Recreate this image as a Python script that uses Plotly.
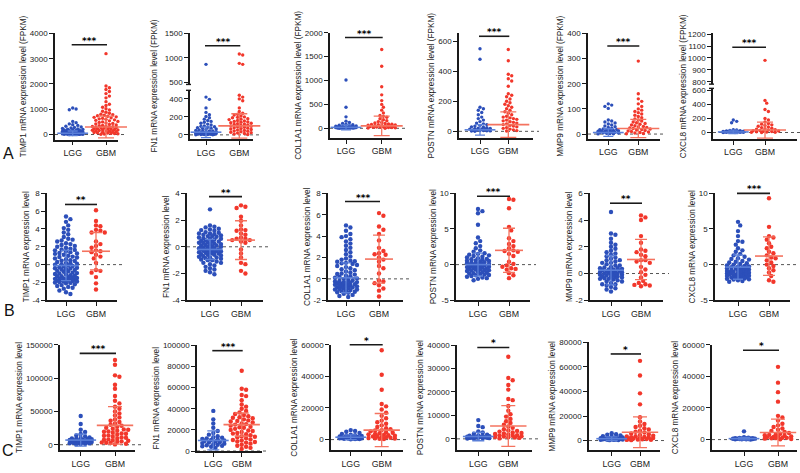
import plotly.graph_objects as go

W, H = 800, 473
groups = ["LGG", "GBM"]
genes = ["TIMP1", "FN1", "COL1A1", "POSTN", "MMP9", "CXCL8"]

# ---------------- Row A (FPKM) ----------------
a_timp1_lgg = [1050, 1010, 980, 520, 470, 420, 390, 360, 330, 300, 280, 260, 240, 225, 210, 200, 190, 180, 170, 160,
               150, 140, 130, 125, 120, 115, 110, 105, 100, 95, 90, 85, 80, 76, 72, 68, 64, 60, 56, 52, 48, 45, 42, 39,
               36, 33, 30, 27, 24, 21, 18, 15, 12, 10, 8, 6, 5, 4, 3, 2]
a_timp1_gbm = [3200, 1920, 1850, 1780, 1700, 1620, 1520, 1450, 1300, 1200, 1150, 1080, 1020, 970, 920, 880, 840, 800,
               780, 760, 740, 720, 700, 680, 660, 640, 620, 600, 580, 560, 540, 520, 500, 480, 460, 440, 420, 400, 380,
               360, 350, 340, 330, 320, 310, 300, 290, 280, 270, 260, 250, 240, 230, 220, 210, 200, 190, 180, 170, 160,
               150, 140, 130, 120, 110, 100, 90, 80, 70, 60, 50, 40, 30, 20, 10]
a_fn1_lgg = [870, 420, 395, 300, 250, 225, 205, 190, 175, 160, 150, 140, 130, 120, 110, 100, 95, 90, 85, 80, 75, 70, 65,
             60, 55, 50, 45, 40, 36, 32, 28, 25, 22, 20, 18, 16, 14, 12, 10, 9, 8, 7, 6, 5, 4, 3, 2, 1, 15, 25, 35, 45]
a_fn1_gbm = [1080, 1060, 890, 870, 440, 420, 400, 380, 300, 260, 240, 230, 220, 210, 200, 195, 190, 180, 175, 170, 160,
             155, 150, 145, 140, 135, 130, 125, 120, 115, 110, 105, 100, 95, 90, 85, 80, 75, 70, 65, 60, 55, 50, 45, 40,
             35, 30, 25, 20, 15, 10, 5]
a_col1a1_lgg = [1010, 440, 240, 150, 120, 100, 85, 75, 65, 55, 50, 45, 40, 35, 30, 28, 25, 22, 20, 18, 16, 14, 12, 10, 9,
                8, 7, 6, 5, 4, 3, 2, 1, 15, 25, 35]
a_col1a1_gbm = [1650, 1300, 870, 700, 580, 500, 440, 380, 320, 270, 250, 230, 200, 180, 160, 140, 120, 110, 100, 90, 80,
                70, 60, 55, 50, 45, 40, 35, 30, 25, 20, 15, 10, 5, 2, 65, 75, 85, 28, 18]
a_postn_lgg = [550, 480, 160, 150, 140, 125, 110, 95, 85, 75, 65, 55, 50, 45, 40, 35, 30, 27, 24, 21, 18, 15, 12, 10, 8,
               6, 5, 4, 3, 2, 1, 20, 14, 9]
a_postn_gbm = [545, 470, 380, 370, 350, 335, 300, 250, 240, 230, 215, 200, 190, 180, 170, 160, 150, 140, 130, 120, 110,
               100, 95, 90, 85, 80, 75, 70, 65, 60, 55, 50, 45, 40, 35, 30, 25, 20, 15, 10, 5, 2]
a_mmp9_lgg = [120, 115, 110, 102, 56, 52, 48, 44, 40, 36, 32, 29, 26, 23, 20, 18, 16, 14, 12, 10, 9, 8, 7, 6, 5, 4, 3, 2,
              1, 0.5, 11, 13, 15, 17]
a_mmp9_gbm = [290, 160, 140, 130, 120, 110, 100, 95, 90, 85, 80, 75, 70, 65, 60, 56, 52, 48, 45, 42, 39, 36, 33, 30, 28,
              26, 24, 22, 20, 18, 16, 14, 12, 10, 8, 6, 4, 2, 1]
a_cxcl8_lgg = [180, 160, 140, 40, 35, 30, 26, 22, 19, 16, 14, 12, 10, 8, 7, 6, 5, 4, 3, 2, 1, 0.5, 9, 11]
a_cxcl8_gbm = [980, 460, 420, 330, 300, 200, 180, 150, 130, 120, 110, 100, 90, 80, 70, 62, 55, 48, 42, 36, 30, 26, 22,
               18, 14, 10, 7, 4, 2, 1]
a_mean_lgg = [50, 30, 20, 10, 6, 8]
a_sd_lgg = [90, 60, 50, 35, 15, 25]
a_mean_gbm = [300, 100, 50, 45, 22, 35]
a_sd_gbm = [430, 135, 205, 85, 36, 115]
a_sig = ["***", "***", "***", "***", "***", "***"]

# ---------------- Row B (normalised) ----------------
b_timp1_lgg = [5.4, 5.1, 4.8, 4.4, 4.1, 3.9, 3.6, 3.4, 3.1, 2.9, 2.7, 2.6, 2.4, 2.3, 2.1, 2.0, 1.9, 1.8, 1.7, 1.6, 1.5,
               1.4, 1.3, 1.2, 1.1, 1.0, 0.9, 0.8, 0.7, 0.6, 0.5, 0.4, 0.3, 0.2, 0.1, 0.0, -0.1, -0.2, -0.3, -0.4, -0.5,
               -0.6, -0.7, -0.8, -0.9, -1.0, -1.1, -1.2, -1.3, -1.4, -1.5, -1.6, -1.7, -1.8, -1.9, -2.0, -2.1, -2.2,
               -2.3, -2.5, -2.7, -2.9, -3.1, -3.3, 0.45, 0.15, -0.15, -0.45, -0.75, -1.05, -1.25, -1.45, -1.55, -1.65,
               -1.75, -1.85, -1.95, -2.05, -1.7, -1.8, -1.6, -1.9, -1.3, -0.95, -0.55, -0.35, 0.05, -2.4, -2.6, 2.8,
               2.2, 1.65, 1.25, 0.85]
b_timp1_gbm = [6.1, 4.9, 4.4, 4.3, 3.9, 3.8, 3.6, 3.6, 2.6, 2.3, 2.1, 1.9, 1.6, 1.5, 1.4, 1.1, 0.9, 0.7, 0.2, -0.6,
               -0.7, -0.9, -1.4, -2.1, -2.8]
b_fn1_lgg = [2.8, 1.6, 1.5, 1.45, 1.35, 1.3, 1.25, 1.2, 1.1, 1.05, 1.0, 0.95, 0.9, 0.85, 0.8, 0.75, 0.7, 0.65, 0.6, 0.55,
             0.5, 0.45, 0.4, 0.35, 0.3, 0.25, 0.2, 0.15, 0.1, 0.05, 0.0, -0.05, -0.1, -0.15, -0.2, -0.25, -0.3, -0.35,
             -0.4, -0.45, -0.5, -0.55, -0.6, -0.65, -0.7, -0.75, -0.8, -0.85, -0.9, -0.95, -1.0, -1.1, -1.2, -1.3, -1.4,
             -1.5, -1.6, -1.7, -1.8, -1.9, -2.05, 0.3, 0.2, 0.1, 0.0, -0.1, -0.2, -0.3, -0.4, -0.5, -0.6, -0.2, -0.3,
             -0.4, 0.4, 0.6, -0.8, -1.0, -1.2, 0.8, 1.0]
b_fn1_gbm = [3.1, 3.0, 2.9, 2.25, 1.95, 1.6, 1.3, 1.25, 1.2, 1.0, 0.9, 0.7, 0.6, 0.6, 0.5, 0.5, 0.4, 0.3, -0.2, -0.5,
             -0.8, -1.2, -1.3, -1.8, -2.0]
b_col1a1_lgg = [5.0, 4.8, 4.5, 4.2, 4.0, 3.9, 3.7, 3.5, 3.3, 3.1, 2.9, 2.7, 2.5, 2.3, 2.1, 1.9, 1.8, 1.7, 1.6, 1.5, 1.4,
                1.3, 1.2, 1.1, 1.0, 0.9, 0.8, 0.7, 0.6, 0.5, 0.4, 0.3, 0.2, 0.1, 0.0, -0.1, -0.2, -0.3, -0.4, -0.5,
                -0.6, -0.7, -0.8, -0.9, -1.0, -1.1, -1.2, -1.3, -1.4, -1.5, -1.6, -1.7, -0.15, -0.25, -0.35, -0.45,
                -0.55, -0.65, -0.75, -0.85, -0.95, -1.05, -1.15, -1.25, -0.4, -0.5, -0.6, -0.7, -0.8, -0.3, -1.0, 0.05,
                0.25, 0.45, 1.65, 1.45]
b_col1a1_gbm = [6.15, 5.9, 4.9, 4.6, 4.2, 3.6, 2.9, 2.6, 2.4, 2.3, 2.25, 2.0, 1.8, 1.6, 1.2, 1.0, 0.5, -0.15, -0.25,
                -0.4, -0.6, -0.9, -1.1, -1.65]
b_postn_lgg = [7.8, 7.5, 7.2, 5.6, 3.8, 3.3, 3.0, 2.6, 2.3, 2.0, 1.8, 1.6, 1.5, 1.4, 1.3, 1.2, 1.1, 1.0, 0.9, 0.8, 0.7,
               0.6, 0.5, 0.4, 0.3, 0.2, 0.1, 0.0, -0.1, -0.2, -0.3, -0.4, -0.5, -0.6, -0.7, -0.8, -0.9, -1.0, -1.1,
               -1.2, -1.3, -1.4, -1.5, -1.6, -1.7, -1.8, -1.9, -2.0, -2.2, 0.05, -0.15, -0.25, -0.35, -0.45, 0.15, 0.25,
               -0.55, -0.65, -0.75, 0.35, -0.05, -0.85, -1.05, -1.25, 0.55, 0.75, -1.45]
b_postn_gbm = [9.2, 9.1, 7.9, 5.3, 4.8, 3.7, 3.3, 2.9, 2.6, 2.3, 2.0, 1.9, 1.8, 1.5, 1.2, 0.4, 0.1, -0.1, -0.3, -0.5,
               -0.6, -0.7, -1.2, -1.5, -1.9]
b_mmp9_lgg = [4.6, 3.0, 2.9, 2.6, 2.3, 2.15, 2.0, 1.85, 1.7, 1.6, 1.5, 1.4, 1.3, 1.2, 1.1, 1.0, 0.9, 0.8, 0.7, 0.6, 0.5,
              0.45, 0.4, 0.35, 0.3, 0.25, 0.2, 0.15, 0.1, 0.05, 0.0, -0.05, -0.1, -0.15, -0.2, -0.25, -0.3, -0.35, -0.4,
              -0.45, -0.5, -0.6, -0.7, -0.8, -0.9, -1.0, -1.1, -1.2, -1.35, 0.1, 0.0, -0.1, -0.2, 0.2, 0.3, -0.3, 0.4,
              -0.4, 0.6, -0.6, 0.8, -0.8, 0.05, -0.05, -0.15, 0.15, 1.0]
b_mmp9_gbm = [4.35, 4.2, 4.0, 2.8, 2.3, 1.8, 1.7, 1.6, 1.4, 1.3, 1.0, 1.0, 0.9, 0.8, 0.5, 0.3, 0.1, -0.1, -0.3, -0.55,
              -0.7, -0.8, -0.85, -0.9, -0.95]
b_cxcl8_lgg = [6.0, 5.5, 4.7, 4.0, 3.3, 3.2, 2.8, 2.3, 2.0, 1.8, 1.5, 1.3, 1.1, 0.9, 0.7, 0.5, 0.3, 0.1, 0.0, -0.1,
               -0.2, -0.3, -0.4, -0.5, -0.6, -0.7, -0.8, -0.9, -1.0, -1.1, -1.2, -1.3, -1.4, -1.5, -1.6, -1.7, -1.8,
               -1.9, -2.0, -2.1, -2.2, -2.3, -2.4, -0.45, -0.55, -0.65, -0.75, -0.85, -0.95, -1.05, -1.15, -1.25,
               -1.35, -1.45, -1.55, -1.65, -1.75, -1.85, -1.95, -2.05, -0.35, -0.25, -1.0, -1.2, -1.4, -1.6, 0.2, 0.4,
               0.8]
b_cxcl8_gbm = [9.3, 5.3, 4.0, 3.8, 3.5, 3.0, 2.5, 2.3, 1.8, 1.6, 1.3, 1.0, 0.9, 0.6, 0.3, 0.0, -0.2, -0.5, -0.8, -1.1,
               -1.6, -2.2, -2.4]
b_mean_lgg = [-0.1, -0.2, 0.1, 0.0, 0.25, -0.35]
b_sd_lgg = [1.7, 0.75, 1.4, 1.6, 1.1, 1.7]
b_mean_gbm = [1.5, 0.5, 1.85, 2.0, 1.05, 1.2]
b_sd_gbm = [2.1, 1.45, 2.25, 3.1, 1.5, 2.7]
b_sig = ["**", "**", "***", "***", "**", "***"]

# ---------------- Row C ----------------
c_timp1_lgg = [43000, 31000, 22500, 19000, 16000, 14000, 12500, 11000, 10000, 9000, 8200, 7500, 7000, 6500, 6000, 5500,
               5000, 4500, 4000, 3500, 3000, 2500, 2000, 1500, 1000, 500, 6200, 4200, 3200, 8500, 2200, 9500]
c_timp1_gbm = [127000, 120000, 104000, 102000, 90000, 84000, 73000, 66000, 62000, 57000, 54000, 50000, 47000, 44000,
               41000, 38000, 36000, 34000, 32000, 30000, 28500, 27000, 25500, 24000, 22500, 21000, 19500, 18000, 16500,
               15000, 13500, 12000, 10500, 9000, 7500, 6000, 4500, 3000, 1500, 500, 20000, 14000, 8000, 5000, 2500,
               11000, 17000, 23000, 6500, 3500]
c_fn1_lgg = [38000, 30000, 26000, 22000, 19000, 17000, 15500, 14000, 13000, 12000, 11000, 10000, 9000, 8000, 7000, 6000,
             5000, 4000, 3000, 12500, 10500, 8500, 6500, 5500, 9500, 11500, 7500, 4500]
c_fn1_gbm = [76000, 59000, 58000, 53000, 52000, 48000, 44000, 42000, 40000, 38000, 36500, 35000, 34000, 33000, 32000,
             31000, 30000, 29000, 28000, 27000, 26000, 25000, 24000, 23000, 22000, 21000, 20000, 19000, 18000, 17000,
             16000, 15000, 14000, 13000, 12000, 11000, 10000, 9000, 8000, 7000, 6000, 5000, 4000, 3000, 2000, 25500,
             22500, 19500, 16500, 13500, 10500, 28500, 31500, 8500]
c_col1a1_lgg = [6000, 5500, 5000, 4200, 3600, 3100, 2700, 2300, 2000, 1700, 1500, 1300, 1100, 900, 800, 700, 600, 500,
                400, 300, 200, 1000, 1200, 1400, 1800, 2500, 800, 600]
c_col1a1_gbm = [56500, 41000, 31500, 22500, 21000, 19000, 17000, 15000, 13500, 12000, 11000, 10000, 9000, 8000, 7200,
                6500, 5800, 5200, 4600, 4000, 3500, 3000, 2500, 2000, 1600, 1200, 800, 500, 300, 4300, 3300, 2200, 1400,
                1000, 700, 6000, 2800]
c_postn_lgg = [8000, 5500, 5000, 3200, 2700, 2200, 1800, 1500, 1200, 1000, 850, 700, 600, 500, 400, 300, 200, 100, 900,
               1100, 1300, 650, 450, 350]
c_postn_gbm = [35000, 26000, 25000, 23000, 21000, 17000, 16500, 14000, 12000, 10500, 9500, 8500, 7500, 6800, 6000, 5300,
               4700, 4100, 3600, 3100, 2700, 2300, 1900, 1600, 1300, 1000, 800, 600, 400, 200, 2100, 1500, 1100, 700,
               3400, 2500]
c_mmp9_lgg = [6000, 5200, 4700, 4200, 3600, 3100, 2700, 2300, 2000, 1700, 1500, 1300, 1100, 900, 800, 700, 600, 500, 400,
              300, 1000, 1200, 1800, 2500]
c_mmp9_gbm = [65000, 53000, 38500, 29500, 19000, 15500, 13500, 12000, 11000, 10000, 9000, 8000, 7200, 6500, 5800, 5200,
              4600, 4000, 3500, 3000, 2500, 2000, 1600, 1200, 800, 500, 300, 2200, 1400, 1000, 700, 3300, 2800]
c_cxcl8_lgg = [5200, 1500, 1200, 1000, 850, 700, 600, 500, 400, 300, 250, 200, 150, 100, 650, 450, 350, 550, 800, 900]
c_cxcl8_gbm = [46000, 36000, 30000, 24000, 15000, 14000, 12000, 10000, 9000, 8000, 7000, 6200, 5500, 4800, 4200, 3700,
               3200, 2800, 2400, 2000, 1700, 1400, 1100, 800, 600, 400, 200, 1900, 1200, 900, 3000]
c_mean_lgg = [7000, 10000, 1500, 1000, 1500, 600]
c_sd_lgg = [9000, 9000, 1500, 1800, 1500, 800]
c_mean_gbm = [29000, 25000, 6000, 5500, 6800, 4500]
c_sd_gbm = [28000, 11000, 10500, 8700, 12500, 8500]
c_sig = ["***", "***", "*", "*", "*", "*"]

# ---------------- layout specification (pixels) ----------------
FONT = "Liberation Sans, Arial, sans-serif"
C_LGG, C_GBM = "#2c4fba", "#f2372b"
C_LGG_E, C_GBM_E = "#5a7fd8", "#f4735f"


def seg(top, bottom, lo, hi, ticks):
    return dict(top=top, bottom=bottom, lo=lo, hi=hi, ticks=ticks)


tA = lambda g: f"{g} mRNA expression level (FPKM)"
tB = lambda g: f"{g} mRNA expression level"

spec = [
    # Row A
    dict(left=55, right=118, lgg=72.7, gbm=106, segs=[seg(30, 138.2, -200, 4000, [0, 1000, 2000, 3000, 4000])], sig=3550),
    dict(left=190, right=253, lgg=206, gbm=239.3,
         segs=[seg(88, 138, -50, 495, [0, 200, 400]), seg(30, 82, 460, 1500, [500, 1000, 1500])], sig=1250, title_x=154),
    dict(left=330, right=402, lgg=346, gbm=381.7, segs=[seg(29.3, 136.7, -205, 2000, [0, 500, 1000, 1500, 2000])], sig=1900),
    dict(left=459, right=533, lgg=480, gbm=508.3, segs=[seg(30, 136.7, -45, 652, [0, 200, 400, 600])], sig=633),
    dict(left=588, right=660, lgg=608.3, gbm=638.3, segs=[seg(30, 137.7, -20, 400, [0, 100, 200, 300, 400])], sig=350),
    dict(left=713, right=797, lgg=733.3, gbm=765,
         segs=[seg(86, 137.7, -94, 632, [0, 200, 400, 600]), seg(30, 81.7, 780, 1206, [800, 900, 1000, 1100, 1200])],
         sig=1090, title_x=683),
    # Row B
    dict(left=47, right=117, lgg=66, gbm=96, segs=[seg(193, 302, -4, 8, [-4, -2, 0, 2, 4, 6, 8])], sig=6.75),
    dict(left=187, right=263, lgg=210, gbm=241, segs=[seg(193, 302, -4, 4, [-4, -2, 0, 2, 4])], sig=3.75),
    dict(left=328, right=403, lgg=346, gbm=379, segs=[seg(193, 302, -2, 8, [-2, 0, 2, 4, 6, 8])], sig=7.23),
    dict(left=456, right=530, lgg=478, gbm=509, segs=[seg(193, 302, -5, 10, [-5, 0, 5, 10])], sig=9.6),
    dict(left=590, right=663, lgg=611, gbm=641, segs=[seg(193, 302, -2, 6, [-2, 0, 2, 4, 6])], sig=5.26),
    dict(left=715, right=790, lgg=738, gbm=769, segs=[seg(193, 302, -5, 10, [-5, 0, 5, 10])], sig=10.0),
    # Row C
    dict(left=60, right=135, lgg=80.7, gbm=115, segs=[seg(347.3, 455, -8400, 150000, [0, 50000, 100000, 150000])], sig=137000),
    dict(left=197, right=262, lgg=213.3, gbm=241.7,
         segs=[seg(348, 455.7, 0, 100000, [0, 20000, 40000, 60000, 80000, 100000])], sig=95000),
    dict(left=331, right=403, lgg=350.7, gbm=381.7, segs=[seg(347.3, 455, -6800, 60000, [0, 20000, 40000, 60000])], sig=60000),
    dict(left=457, right=532, lgg=478.3, gbm=508.3, segs=[seg(347.7, 455, -4900, 40000, [0, 10000, 20000, 30000, 40000])], sig=39000),
    dict(left=589, right=660, lgg=611.7, gbm=640, segs=[seg(345, 455, -8000, 80000, [0, 20000, 40000, 60000, 80000])], sig=70600),
    dict(left=712, right=797, lgg=744, gbm=778, segs=[seg(347.3, 455, -6800, 60000, [0, 20000, 40000, 60000])], sig=56500),
]

data_lgg = [a_timp1_lgg, a_fn1_lgg, a_col1a1_lgg, a_postn_lgg, a_mmp9_lgg, a_cxcl8_lgg,
            b_timp1_lgg, b_fn1_lgg, b_col1a1_lgg, b_postn_lgg, b_mmp9_lgg, b_cxcl8_lgg,
            c_timp1_lgg, c_fn1_lgg, c_col1a1_lgg, c_postn_lgg, c_mmp9_lgg, c_cxcl8_lgg]
data_gbm = [a_timp1_gbm, a_fn1_gbm, a_col1a1_gbm, a_postn_gbm, a_mmp9_gbm, a_cxcl8_gbm,
            b_timp1_gbm, b_fn1_gbm, b_col1a1_gbm, b_postn_gbm, b_mmp9_gbm, b_cxcl8_gbm,
            c_timp1_gbm, c_fn1_gbm, c_col1a1_gbm, c_postn_gbm, c_mmp9_gbm, c_cxcl8_gbm]
means = [a_mean_lgg + b_mean_lgg + c_mean_lgg, a_mean_gbm + b_mean_gbm + c_mean_gbm]
sds = [a_sd_lgg + b_sd_lgg + c_sd_lgg, a_sd_gbm + b_sd_gbm + c_sd_gbm]
sigs = a_sig + b_sig + c_sig
titles = [tA(g) for g in genes] + [tB(g) for g in genes] + [tB(g) for g in genes]

row_style = [  # marker diameter, swarm half-width (lgg, gbm), mean-line length (lgg, gbm), cap half width
    dict(d=3.4, cap=(11, 15), ml=(22, 30), ew=(5, 8)),
    dict(d=4.4, cap=(12, 10), ml=(18, 20), ew=(5, 6)),
    dict(d=4.4, cap=(12, 15), ml=(22, 26), ew=(6, 7)),
]
TICK_FS, TITLE_FS, XT_FS = 8.0, 8.2, 8.8


def seg_index(p, v):
    s = p["segs"]
    if len(s) > 1 and v > s[0]["hi"]:
        return 1
    return 0


def to_px(p, v):
    s = p["segs"][seg_index(p, v)]
    return s["bottom"] - (v - s["lo"]) / (s["hi"] - s["lo"]) * (s["bottom"] - s["top"])


def swarm(pys, d, cap):
    step = d * 0.5
    cands = [0.0]
    k = 1
    while k * step <= cap:
        cands += [k * step, -k * step]
        k += 1
    placed = []
    res = [0.0] * len(pys)
    for i in sorted(range(len(pys)), key=lambda j: pys[j]):
        y = pys[i]
        best, bestm = 0.0, -1.0
        for c in cands:
            m = min((((c - a) ** 2 + (y - b) ** 2) ** 0.5 for a, b in placed), default=1e9)
            if m >= d * 0.92:
                best = c
                break
            if m > bestm:
                bestm, best = m, c
        placed.append((best, y))
        res[i] = best
    return res


fig = go.Figure()
layout = dict(width=W, height=H, margin=dict(l=0, r=0, t=0, b=0), paper_bgcolor="white", plot_bgcolor="white",
              showlegend=False, font=dict(family=FONT, color="#222"), shapes=[], annotations=[])

extra_y = 19
axis_common = dict(showline=True, linecolor="#1a1a1a", linewidth=1.6, ticks="outside", ticklen=4, tickwidth=1.4,
                   tickcolor="#1a1a1a", showgrid=False, zeroline=False, fixedrange=True)

for k, p in enumerate(spec, start=1):
    row = (k - 1) // 6
    st = row_style[row]
    u = p["gbm"] - p["lgg"]
    xname = "x" if k == 1 else f"x{k}"
    ynames = ["y" if k == 1 else f"y{k}"]
    if len(p["segs"]) > 1:
        ynames.append(f"y{extra_y}")
        extra_y += 1
    xkey = "xaxis" if k == 1 else f"xaxis{k}"
    layout[xkey] = dict(axis_common, domain=[p["left"] / W, p["right"] / W],
                        range=[(p["left"] - p["lgg"]) / u, (p["right"] - p["lgg"]) / u],
                        anchor=ynames[0], tickvals=[0, 1], ticktext=groups,
                        tickfont=dict(size=XT_FS, family=FONT, color="#222"))
    for si, s in enumerate(p["segs"]):
        ykey = "yaxis" + ynames[si][1:]
        yd = dict(axis_common, domain=[1 - s["bottom"] / H, 1 - s["top"] / H], range=[s["lo"], s["hi"]],
                  anchor=xname, tickvals=s["ticks"], ticktext=[str(t) for t in s["ticks"]],
                  tickfont=dict(size=TICK_FS, family=FONT, color="#222"))
        if len(p["segs"]) == 1:
            yd["title"] = dict(text=titles[k - 1], font=dict(size=TITLE_FS, family=FONT, color="#222"), standoff=2)
        layout[ykey] = yd
    if len(p["segs"]) > 1:
        s0, s1 = p["segs"]
        layout["annotations"].append(dict(text=titles[k - 1], x=p["title_x"] / W, y=1 - ((s1["top"] + s0["bottom"]) / 2) / H,
                                          xref="paper", yref="paper", textangle=-90, showarrow=False,
                                          font=dict(size=TITLE_FS, family=FONT, color="#222"), xanchor="center", yanchor="middle"))
        for yy in (s1["bottom"], s0["top"]):
            layout["shapes"].append(dict(type="line", xref="paper", yref="paper", x0=(p["left"] - 4) / W,
                                         x1=(p["left"] + 1) / W, y0=1 - yy / H, y1=1 - yy / H,
                                         line=dict(color="#1a1a1a", width=1.4)))

    # points
    for g, vals in enumerate([data_lgg[k - 1], data_gbm[k - 1]]):
        pys = [to_px(p, v) for v in vals]
        offs = swarm(pys, st["d"], st["cap"][g])
        color = C_LGG if g == 0 else C_GBM
        for si in range(len(p["segs"])):
            xs = [g + offs[i] / u for i, v in enumerate(vals) if seg_index(p, v) == si]
            ys = [v for v in vals if seg_index(p, v) == si]
            if not xs:
                continue
            fig.add_trace(go.Scatter(x=xs, y=ys, xaxis=xname, yaxis=ynames[si], mode="markers", cliponaxis=False,
                                     marker=dict(size=st["d"], color=color, line=dict(width=0)), hoverinfo="skip"))
    # mean and SD
    for g in range(2):
        ecol = C_LGG_E if g == 0 else C_GBM_E
        fig.add_trace(go.Scatter(x=[g], y=[means[g][k - 1]], xaxis=xname, yaxis=ynames[0], mode="markers",
                                 cliponaxis=False,
                                 marker=dict(symbol="line-ew", size=st["ml"][g], color=ecol,
                                             line=dict(color=ecol, width=1.6)),
                                 error_y=dict(type="data", array=[sds[g][k - 1]], color=ecol, thickness=1.3,
                                              width=st["ew"][g]),
                                 hoverinfo="skip"))
    # dotted zero line
    y0 = to_px(p, 0)
    layout["shapes"].append(dict(type="line", xref="paper", yref="paper", x0=p["left"] / W, x1=(p["right"] + 6) / W,
                                 y0=1 - y0 / H, y1=1 - y0 / H, line=dict(color="#555", width=1, dash="dot"), layer="below"))
    # significance bar
    yb = to_px(p, p["sig"])
    layout["shapes"].append(dict(type="line", xref="paper", yref="paper", x0=(p["lgg"] - 1) / W, x1=(p["gbm"] + 1) / W,
                                 y0=1 - yb / H, y1=1 - yb / H, line=dict(color="#1a1a1a", width=1.6)))
    layout["annotations"].append(dict(text="<b>" + sigs[k - 1] + "</b>", x=((p["lgg"] + p["gbm"]) / 2) / W,
                                      y=1 - yb / H, xref="paper", yref="paper", showarrow=False, yanchor="bottom",
                                      xanchor="center", yshift=-3,
                                      font=dict(size=9, family="DejaVu Sans", color="#000000")))

for lab, (lx, ly) in zip(["A", "B", "C"], [(8, 152), (9, 312), (8, 455)]):
    layout["annotations"].append(dict(text=lab, x=lx / W, y=1 - ly / H, xref="paper", yref="paper", showarrow=False,
                                      xanchor="center", yanchor="middle", font=dict(size=16, family=FONT, color="#111")))

fig.update_layout(**layout)
fig.write_html("out.html", config={"displayModeBar": False},
               post_script="document.body.style.margin='0';")
